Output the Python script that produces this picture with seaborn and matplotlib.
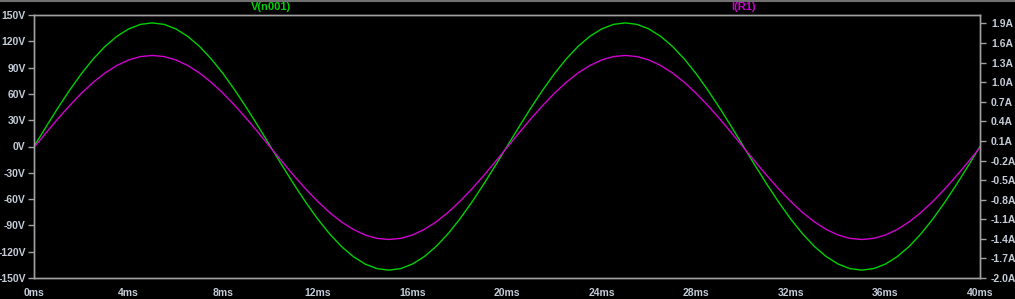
import matplotlib
matplotlib.use("Agg")
import matplotlib.pyplot as plt
import seaborn as sns
import pandas as pd
from matplotlib.lines import Line2D

# ---- data ----
time_ms = [i * 0.5 for i in range(81)]
half_v = [0.0, 22.1, 43.6, 64.0, 82.9, 99.7, 114.1, 125.6, 134.1, 139.3, 141.0,
          139.3, 134.1, 125.6, 114.1, 99.7, 82.9, 64.0, 43.6, 22.1]
v_n001 = half_v + [-x for x in half_v] + half_v + [-x for x in half_v] + [0.0]
half_i = [0.0, 0.221, 0.436, 0.640, 0.829, 0.997, 1.141, 1.256, 1.341, 1.393, 1.410,
          1.393, 1.341, 1.256, 1.141, 0.997, 0.829, 0.640, 0.436, 0.221]
i_r1 = half_i + [-x for x in half_i] + half_i + [-x for x in half_i] + [0.0]

v_ticks = [-150, -120, -90, -60, -30, 0, 30, 60, 90, 120, 150]
v_labels = [f"{v}V" for v in v_ticks]
i_ticks = [-2.0, -1.7, -1.4, -1.1, -0.8, -0.5, -0.2, 0.1, 0.4, 0.7, 1.0, 1.3, 1.6, 1.9]
i_labels = [f"{v:.1f}A" for v in i_ticks]
t_ticks = [0, 4, 8, 12, 16, 20, 24, 28, 32, 36, 40]
t_labels = [f"{t}ms" for t in t_ticks]

df = pd.DataFrame({"t": time_ms, "V": v_n001, "I": i_r1})

sns.set_theme(style="dark")
plt.rcParams["font.family"] = ["Liberation Sans", "DejaVu Sans"]

GREEN = "#00d000"
MAGENTA = "#d000d0"
AXC = "#a0a0a0"
TXT = "#c4ccd8"

fig = plt.figure(figsize=(10.15, 2.99), dpi=100, facecolor="black")
ax = fig.add_axes([34 / 1015, 21 / 299, 946 / 1015, 263 / 299])
ax.set_facecolor("black")
ax2 = ax.twinx()

sns.lineplot(data=df, x="t", y="V", ax=ax, color=GREEN, lw=1.0)
sns.lineplot(data=df, x="t", y="I", ax=ax2, color=MAGENTA, lw=1.0)

ax.set_xlim(0, 40)
ax.set_ylim(-150, 150)
ax2.set_ylim(-2.0, 2.03)

ax.set_xticks(t_ticks)
ax.set_xticklabels(t_labels)
ax.set_yticks(v_ticks)
ax.set_yticklabels(v_labels)
ax2.set_yticks(i_ticks)
ax2.set_yticklabels(i_labels)

for a in (ax, ax2):
    a.grid(False)
    a.set_xlabel("")
    a.set_ylabel("")
    for s in a.spines.values():
        s.set_color(AXC)
        s.set_linewidth(1.0)
        s.set_visible(True)
    a.tick_params(colors=AXC, labelcolor=TXT, labelsize=7.5, length=4, width=1.0,
                  direction="out", pad=2)
    for lab in a.get_xticklabels() + a.get_yticklabels():
        lab.set_fontweight("bold")

ax.tick_params(axis="x", pad=3)
ax2.tick_params(axis="y", pad=4)

ax.text(0.25, 1.03, "V(n001)", transform=ax.transAxes, ha="center", va="center",
        color=GREEN, fontsize=8, fontweight="bold")
ax.text(0.75, 1.03, "I(R1)", transform=ax.transAxes, ha="center", va="center",
        color=MAGENTA, fontsize=8, fontweight="bold")

fig.add_artist(Line2D([0, 1], [1 - 0.7 / 299, 1 - 0.7 / 299], transform=fig.transFigure,
                      color="#707070", lw=1.5))

fig.savefig("out.png", dpi=100, facecolor="black")
